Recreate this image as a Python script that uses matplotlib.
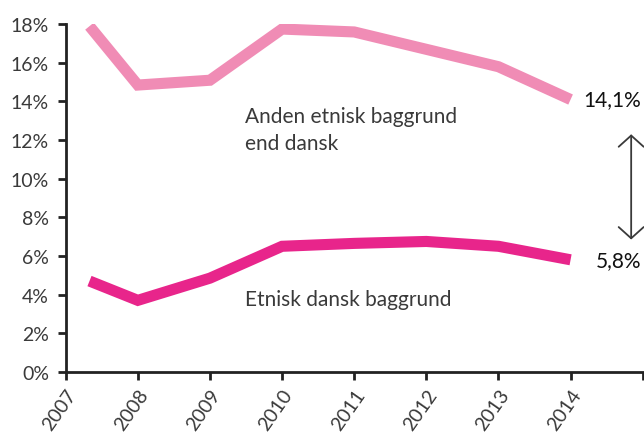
import matplotlib.pyplot as plt
from matplotlib.ticker import FuncFormatter

plt.rcParams['font.family'] = ['Lato', 'DejaVu Sans']

# x positions (first point sits a bit right of the 2007 tick in the original)
years = [2007.33, 2008, 2009, 2010, 2011, 2012, 2013, 2014]
anden = [17.9, 14.85, 15.1, 17.75, 17.6, 16.7, 15.8, 14.1]
dansk = [4.7, 3.7, 4.85, 6.5, 6.65, 6.75, 6.5, 5.8]
tick_years = list(range(2007, 2016))
tick_labels = [str(y) for y in range(2007, 2015)] + ['']

light = '#F08CB5'
dark = '#E8258B'
grey = '#3a3a3a'

fig = plt.figure(figsize=(6.44, 4.35), dpi=100)
ax = fig.add_axes([0.102, 0.143, 0.896, 0.799])

ax.plot(years, anden, color=light, lw=8, solid_joinstyle='miter', solid_capstyle='butt')
ax.plot(years, dansk, color=dark, lw=8, solid_joinstyle='miter', solid_capstyle='butt')

ax.set_xlim(2007, 2015)
ax.set_ylim(0, 18)
ax.set_yticks(range(0, 19, 2))
ax.yaxis.set_major_formatter(FuncFormatter(lambda v, p: f'{int(v)}%'))
ax.set_xticks(tick_years)
ax.set_xticklabels(tick_labels, rotation=55, ha='right', rotation_mode='anchor')

for s in ['top', 'right']:
    ax.spines[s].set_visible(False)
for s in ['left', 'bottom']:
    ax.spines[s].set_linewidth(2)
    ax.spines[s].set_color('#222222')
ax.tick_params(axis='both', length=6, width=2, color='#222222', labelsize=14,
               labelcolor=grey)
ax.tick_params(axis='y', pad=6)
ax.tick_params(axis='x', pad=4)

ax.text(2009.48, 12.55, 'Anden etnisk baggrund\nend dansk', fontsize=15, color=grey,
        va='center', ha='left', linespacing=1.45)
ax.text(2009.48, 3.75, 'Etnisk dansk baggrund', fontsize=15, color=grey,
        va='center', ha='left')
ax.text(2014.98, 14.1, '14,1%', fontsize=15, color='#111111', va='center', ha='right')
ax.text(2014.98, 5.8, '5,8%', fontsize=15, color='#111111', va='center', ha='right')

ax.annotate('', xy=(2014.84, 12.3), xytext=(2014.84, 6.85),
            arrowprops=dict(arrowstyle='<->,head_length=0.45,head_width=0.5',
                            color=grey, lw=1.3, mutation_scale=18,
                            shrinkA=0, shrinkB=0))

fig.savefig('out.png', dpi=100)
